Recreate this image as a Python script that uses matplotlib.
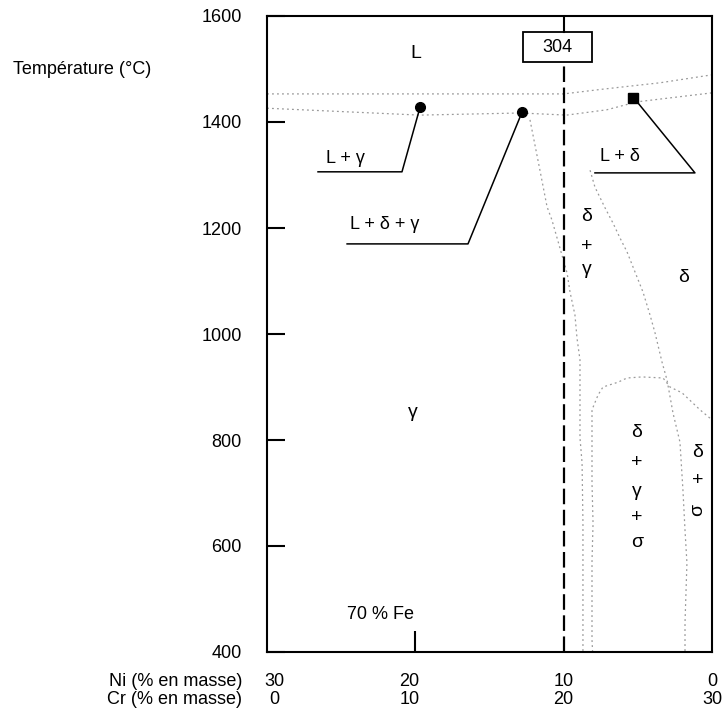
import matplotlib
matplotlib.use("Agg")
import matplotlib.pyplot as plt
from matplotlib.patches import Rectangle
import matplotlib.transforms as mtransforms

plt.rcParams['font.family'] = ['Liberation Sans', 'DejaVu Sans']

# ---------------- data ----------------
temp_ticks = [400, 600, 800, 1000, 1200, 1400, 1600]
ni_labels = ["30", "20", "10", "0"]
ni_label_pos = [29.5, 20.4, 10.0, 0.0]
cr_labels = ["0", "10", "20", "30"]

# liquidus (upper dotted line), Ni % vs T
liq_ni = [30, 20, 10.0, 7.35, 3.5, 0.0]
liq_t = [1453, 1453, 1453, 1462, 1474, 1489]
# solidus (lower dotted line)
sol_ni = [30, 19.7, 12.9, 9.8, 7.1, 5.06, 0.0]
sol_t = [1426, 1413, 1417, 1413, 1423, 1438, 1455]

# delta / delta+gamma boundary (and delta+sigma below)
b1_ni = [8.22, 7.89, 7.21, 6.67, 6.20, 5.73, 4.65, 4.18, 3.84, 3.37, 3.03, 2.63, 2.16, 1.96, 1.82, 1.69, 1.82, 1.82]
b1_t = [1309, 1277, 1238, 1209, 1181, 1155, 1079, 1036, 1002, 947, 913, 851, 796, 706, 630, 568, 455, 400]
# gamma / delta+gamma boundary
b2_ni = [12.27, 11.6, 11.12, 10.79, 9.77, 9.57, 9.24, 9.10, 8.90, 8.90, 8.90, 8.76, 8.70, 8.70, 8.70, 8.70]
b2_t = [1404, 1309, 1240, 1215, 1115, 1079, 1036, 992, 951, 860, 804, 757, 643, 568, 423, 400]
# sigma dome
b3_ni = [8.05, 8.09, 8.09, 8.02, 8.09, 8.09, 8.09, 7.68, 7.35, 6.34, 5.73, 4.72, 3.30, 2.83, 2.02, 0.81, 0.0]
b3_t = [400, 423, 570, 643, 719, 813, 857, 885, 900, 909, 917, 919, 917, 900, 889, 857, 838]

# invariant points
pt_ni = [19.68, 12.8]
pt_t = [1428, 1419]
sq_ni = [5.32]
sq_t = [1445]

# leader lines
lead_g_ni = [26.56, 20.9, 19.68]
lead_g_t = [1306, 1306, 1428]
lead_dg_ni = [24.6, 16.45, 12.8]
lead_dg_t = [1170, 1170, 1419]
lead_d_ni = [7.89, 1.15, 5.05]
lead_d_t = [1304, 1304, 1438]

alloy_ni = 10.0
alloy_name = "304"

# ---------------- figure ----------------
fig = plt.figure(figsize=(7.25, 7.17), dpi=100)
ax = fig.add_axes([267 / 725, 1 - 652 / 717, (712 - 267) / 725, (652 - 16) / 717])
ax.set_xlim(30, 0)
ax.set_ylim(400, 1600)

for s in ax.spines.values():
    s.set_linewidth(1.5)
    s.set_color('black')

ax.set_yticks(temp_ticks)
ax.set_yticklabels([str(t) for t in temp_ticks], fontsize=13)
ax.tick_params(axis='y', direction='in', length=13, width=1.5, pad=18)
ax.set_xticks([20])
ax.set_xticklabels([])
ax.tick_params(axis='x', direction='in', length=15, width=1.5)

grey = '#9a9a9a'
dot = dict(color=grey, lw=0.9, ls=(0, (1.5, 2.5)))
ax.plot(liq_ni, liq_t, **dot)
ax.plot(sol_ni, sol_t, **dot)
ax.plot(b1_ni, b1_t, **dot)
ax.plot(b2_ni, b2_t, **dot)
ax.plot(b3_ni, b3_t, **dot)

# leader lines
for xs, ys in [(lead_g_ni, lead_g_t), (lead_dg_ni, lead_dg_t), (lead_d_ni, lead_d_t)]:
    ax.plot(xs, ys, color='black', lw=1.1)

ax.plot(pt_ni, pt_t, 'o', color='black', ms=7)
ax.plot(sq_ni, sq_t, 's', color='black', ms=7)

# alloy 304 line and box
ax.plot([alloy_ni, alloy_ni], [400, 1513], color='black', lw=1.6, ls=(0, (7, 2.5)))
ax.plot([alloy_ni, alloy_ni], [1570, 1600], color='black', lw=1.5)
ax.add_patch(Rectangle((12.74, 1513), 8.09 - 12.74, 1570 - 1513, fill=False, ec='black', lw=1.3))
ax.text(10.4, 1541, alloy_name, ha='center', va='center', fontsize=13)

# phase labels
fs = 13
fg = 14
ax.text(20.0, 1530, "L", ha='center', va='center', fontsize=fg)
ax.text(26.0, 1332, "L + γ", ha='left', va='center', fontsize=fs)
ax.text(24.4, 1206, "L + δ + γ", ha='left', va='center', fontsize=fs)
ax.text(7.55, 1334, "L + δ", ha='left', va='center', fontsize=fs)
ax.text(20.16, 851, "γ", ha='center', va='center', fontsize=fg)
for t, s in zip([1221, 1166, 1121], ["δ", "+", "γ"]):
    ax.text(8.43, t, s, ha='center', va='center', fontsize=fg)
ax.text(1.95, 1106, "δ", ha='center', va='center', fontsize=fg)
for t, s in zip([815, 758, 702, 653, 606], ["δ", "+", "γ", "+", "σ"]):
    ax.text(5.06, t, s, ha='center', va='center', fontsize=fg)
ax.text(0.94, 777, "δ", ha='center', va='center', fontsize=fg)
ax.text(0.94, 724, "+", ha='center', va='center', fontsize=fg)
ax.text(1.0, 668, "σ", ha='center', va='center', fontsize=fg, rotation=90)
ax.text(20.1, 470, "70 % Fe", ha='right', va='center', fontsize=fs)

# y label
fig.text(13 / 725, 1 - 70 / 717, "Température (°C)", ha='left', va='center', fontsize=13)

# bottom composition rows
trans = mtransforms.blended_transform_factory(ax.transData, fig.transFigure)
y_ni = 1 - 681 / 717
y_cr = 1 - 699 / 717
for x, s in zip(ni_label_pos, ni_labels):
    ax.text(x, y_ni, s, transform=trans, ha='center', va='center', fontsize=13)
for x, s in zip(ni_label_pos, cr_labels):
    ax.text(x, y_cr, s, transform=trans, ha='center', va='center', fontsize=13)
fig.text(242 / 725, y_ni, "Ni (% en masse)", ha='right', va='center', fontsize=13)
fig.text(242 / 725, y_cr, "Cr (% en masse)", ha='right', va='center', fontsize=13)

fig.savefig("out.png", dpi=100)
